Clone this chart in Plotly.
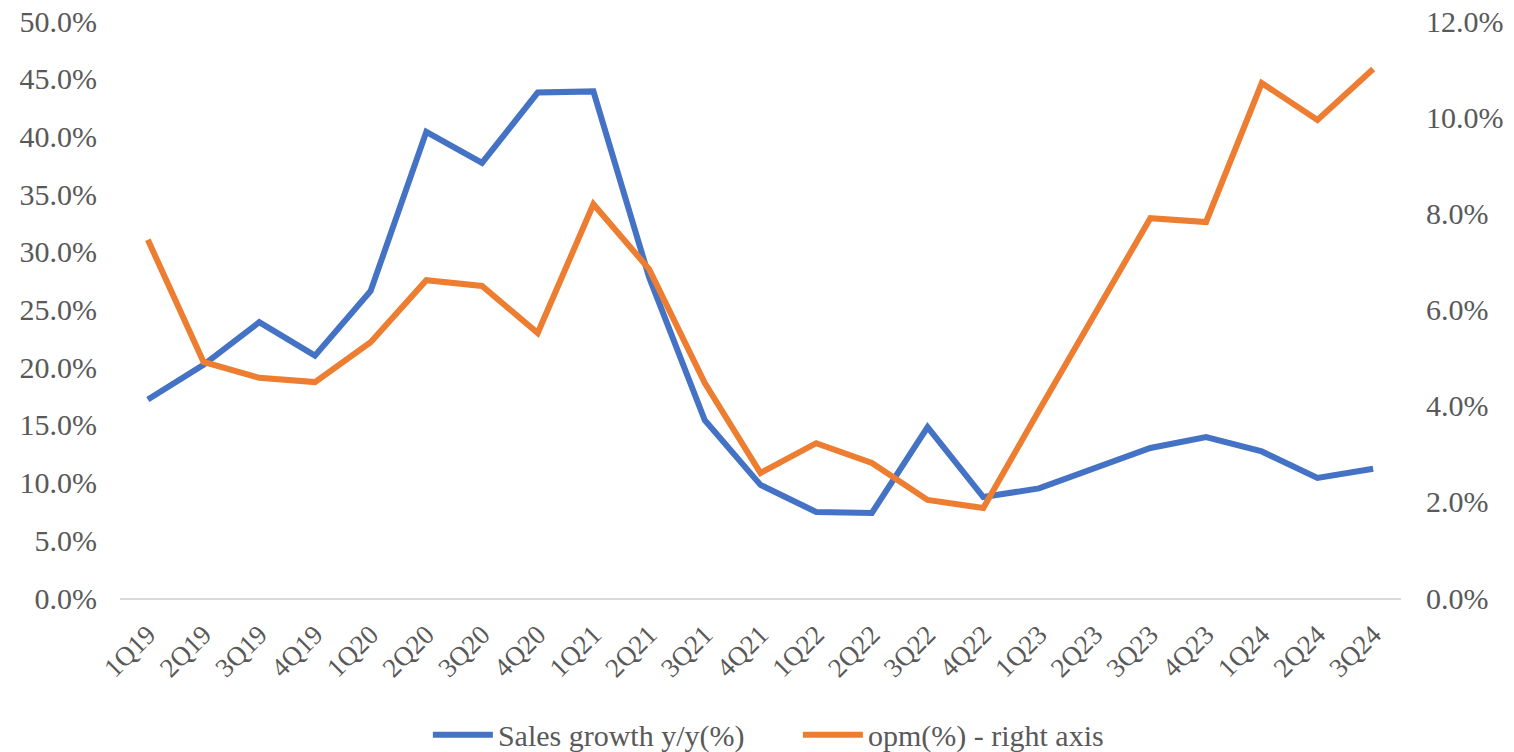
import plotly.graph_objects as go

quarters = ["1Q19","2Q19","3Q19","4Q19","1Q20","2Q20","3Q20","4Q20","1Q21","2Q21","3Q21","4Q21",
            "1Q22","2Q22","3Q22","4Q22","1Q23","2Q23","3Q23","4Q23","1Q24","2Q24","3Q24"]
sales_growth = [17.2, 20.2, 23.9, 21.0, 26.6, 40.4, 37.7, 43.8, 43.9, 27.8, 15.4, 9.8,
                7.45, 7.37, 14.8, 8.75, 9.5, 11.3, 13.0, 13.95, 12.7, 10.4, 11.2]
opm = [7.45, 4.91, 4.58, 4.49, 5.32, 6.61, 6.49, 5.51, 8.19, 6.84, 4.47, 2.6,
       3.22, 2.81, 2.04, 1.87, 3.9, 5.9, 7.9, 7.82, 10.71, 9.94, 11.0]

left_ticks = [0, 5, 10, 15, 20, 25, 30, 35, 40, 45, 50]
right_ticks = [0, 2, 4, 6, 8, 10, 12]

FONT = "Liberation Serif"
GREY = "#595959"

fig = go.Figure()
fig.add_trace(go.Scatter(x=quarters, y=sales_growth, mode="lines", name="Sales growth y/y(%)",
                         line=dict(color="#4472C4", width=6)))
fig.add_trace(go.Scatter(x=quarters, y=opm, mode="lines", name="opm(%) - right axis",
                         line=dict(color="#ED7D31", width=6), yaxis="y2"))

fig.update_layout(
    width=1514, height=752,
    margin=dict(l=120, r=113, t=21, b=154),
    paper_bgcolor="white", plot_bgcolor="white",
    font=dict(family=FONT, color=GREY, size=30),
    showlegend=True,
    legend=dict(orientation="h", xref="container", x=0.527, xanchor="center",
                yref="container", y=0.023, yanchor="middle",
                font=dict(family=FONT, size=30, color=GREY), traceorder="normal",
                itemwidth=60, entrywidth=295),
    xaxis=dict(type="category", tickangle=-45, showgrid=False, showline=True,
               linecolor="#d9d9d9", linewidth=2, ticks="", tickfont=dict(size=27),
               range=[-0.5, len(quarters) - 0.5], automargin=False, ticklabelstandoff=8),
    yaxis=dict(range=[0, 50], tickvals=left_ticks,
               ticktext=[f"{v:.1f}%" for v in left_ticks], showgrid=False,
               zeroline=False, showline=False, ticks="", tickfont=dict(size=30),
               automargin=False, ticklabelstandoff=22),
    yaxis2=dict(range=[0, 12], tickvals=right_ticks,
                ticktext=[f"{v:.1f}%" for v in right_ticks], overlaying="y", side="right",
                showgrid=False, zeroline=False, showline=False, ticks="", tickfont=dict(size=30),
                automargin=False, ticklabelstandoff=24),
)

fig.write_html("out.html")
